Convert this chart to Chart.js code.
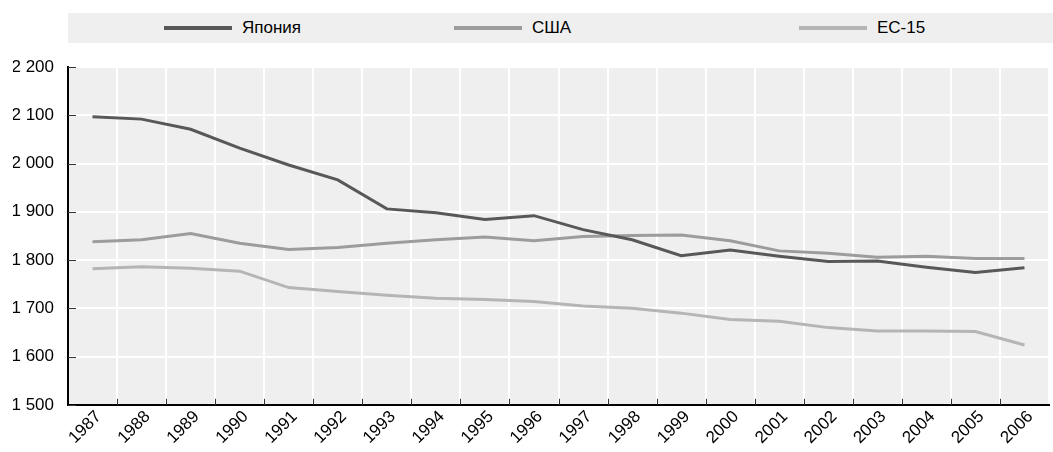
<!DOCTYPE html>
<html>
<head>
<meta charset="utf-8">
<script src="https://cdn.jsdelivr.net/npm/chart.js@4"></script>
<style>
  html, body { margin: 0; padding: 0; background: #fff; }
  #wrap { position: relative; width: 1053px; height: 452px; }
  #legend {
    position: absolute; left: 68px; top: 13px; width: 985px; height: 30px;
    background: #efefef; font-family: "Liberation Sans", Arial, sans-serif;
    font-size: 17px; color: #000;
  }
  .item { position: absolute; top: 0; height: 30px; line-height: 30px; white-space: nowrap; }
  .item i { display: inline-block; width: 68px; height: 4px; vertical-align: middle; margin-right: 10px; margin-top: -2px; }
</style>
</head>
<body>
<div id="wrap">
  <canvas id="chart" width="1053" height="452"></canvas>
  <div id="legend"></div>
</div>
<script>
const years = ['1987', '1988', '1989', '1990', '1991', '1992', '1993', '1994', '1995', '1996',
               '1997', '1998', '1999', '2000', '2001', '2002', '2003', '2004', '2005', '2006'];

const japan = [2097, 2092, 2071, 2032, 1997, 1966, 1906, 1898, 1884, 1892,
               1863, 1842, 1809, 1821, 1808, 1797, 1798, 1785, 1774, 1784];
const usa = [1838, 1842, 1855, 1835, 1822, 1826, 1835, 1842, 1848, 1840,
             1849, 1851, 1852, 1840, 1819, 1814, 1806, 1808, 1803, 1803];
const eu15 = [1782, 1786, 1783, 1777, 1743, 1735, 1727, 1721, 1718, 1714,
              1705, 1700, 1690, 1677, 1673, 1660, 1653, 1653, 1652, 1624];

const seriesNames = ['Япония', 'США', 'ЕС-15'];
const seriesColors = ['#585858', '#9c9c9c', '#b5b5b5'];

const yMin = 1500;
const yMax = 2200;
const yStep = 100;

const fontFamily = '"Liberation Sans", Arial, sans-serif';

function fmt(v) {
  if (v < 1000) return String(v);
  return Math.floor(v / 1000) + ' ' + String(v % 1000).padStart(3, '0');
}

// legend in html so it can be spread like the original
const legendPos = [96, 386, 731];
const legend = document.getElementById('legend');
seriesNames.forEach((name, i) => {
  const el = document.createElement('span');
  el.className = 'item';
  el.style.left = legendPos[i] + 'px';
  el.innerHTML = '<i style="background:' + seriesColors[i] + '"></i>' + name;
  legend.appendChild(el);
});

const plotBg = {
  id: 'plotBg',
  beforeDraw(chart) {
    const { ctx, chartArea: a } = chart;
    ctx.save();
    ctx.fillStyle = '#efefef';
    ctx.fillRect(a.left, a.top, a.right - a.left, a.bottom - a.top);
    ctx.restore();
  }
};

// short dark tick marks drawn inside the plot
const innerTicks = {
  id: 'innerTicks',
  beforeDatasetsDraw(chart) {
    const { ctx, chartArea: a, scales } = chart;
    ctx.save();
    ctx.strokeStyle = '#333';
    ctx.lineWidth = 1;
    ctx.beginPath();
    scales.y.ticks.forEach(t => {
      const y = Math.round(scales.y.getPixelForValue(t.value)) + 0.5;
      ctx.moveTo(a.left, y);
      ctx.lineTo(a.left + 8, y);
    });
    for (let i = 1; i < years.length; i++) {
      const x = Math.round((scales.x.getPixelForTick(i - 1) + scales.x.getPixelForTick(i)) / 2) + 0.5;
      ctx.moveTo(x, a.bottom);
      ctx.lineTo(x, a.bottom - 6);
    }
    ctx.stroke();
    ctx.restore();
  }
};

const datasets = [japan, usa, eu15].map((data, i) => ({
  label: seriesNames[i],
  data: data,
  borderColor: seriesColors[i],
  backgroundColor: seriesColors[i],
  borderWidth: 3,
  pointRadius: 0,
  tension: 0,
  fill: false
}));

new Chart(document.getElementById('chart'), {
  type: 'line',
  data: { labels: years, datasets: datasets },
  options: {
    responsive: false,
    animation: false,
    layout: { padding: { top: 67, right: 4, left: 13, bottom: 2 } },
    plugins: { legend: { display: false }, tooltip: { enabled: false } },
    scales: {
      x: {
        offset: true,
        grid: { offset: true, color: '#ffffff', lineWidth: 2, drawTicks: false },
        border: { color: '#000', width: 2 },
        ticks: {
          color: '#000', minRotation: 45, maxRotation: 45, padding: 2, labelOffset: 6,
          font: { family: fontFamily, size: 17 }
        },
        // let the rotated labels hang past the left edge like the original
        afterFit: s => { s.paddingLeft = 0; s.paddingRight = 0; }
      },
      y: {
        min: yMin,
        max: yMax,
        grid: { color: '#ffffff', lineWidth: 2, drawTicks: false },
        border: { color: '#000', width: 2 },
        ticks: {
          stepSize: yStep, color: '#000', padding: 14,
          font: { family: fontFamily, size: 17 },
          callback: v => fmt(v)
        },
        afterFit: s => { s.width = 55; }
      }
    }
  },
  plugins: [plotBg, innerTicks]
});
</script>
</body>
</html>
